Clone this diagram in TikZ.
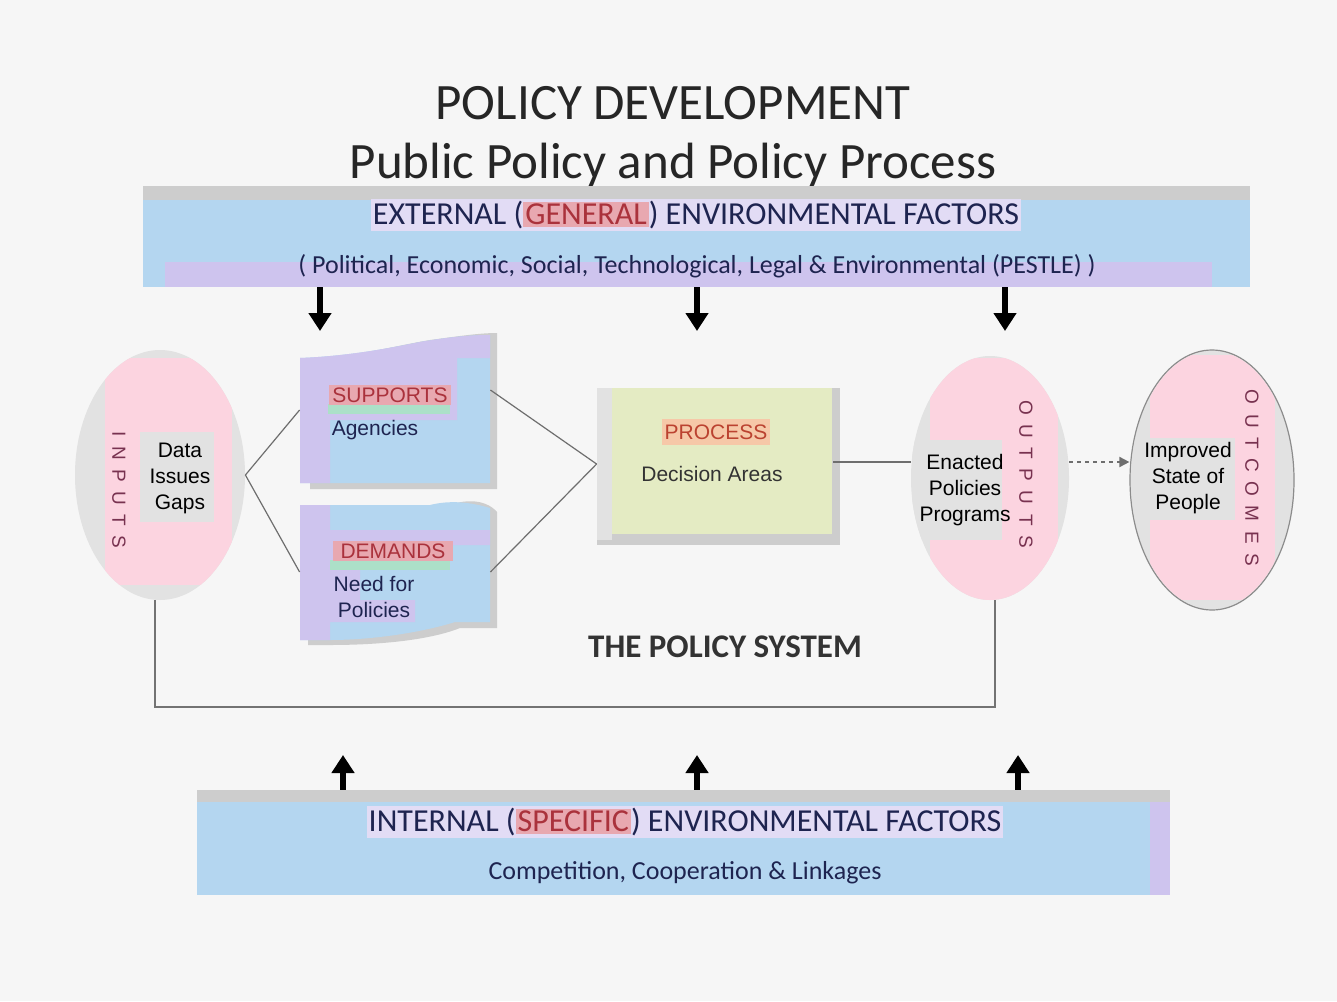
\documentclass[tikz,border=0pt]{standalone}
\usepackage{fontspec}
\setmainfont{Carlito}
\newfontfamily\arialf{Liberation Sans}
\usetikzlibrary{shapes.geometric,arrows.meta}
\definecolor{bgc}{RGB}{246,246,246}
\definecolor{barblue}{RGB}{180,214,240}
\definecolor{lav}{RGB}{206,196,238}
\definecolor{shadeg}{RGB}{205,205,205}
\definecolor{navy}{RGB}{30,36,80}
\definecolor{hlpink}{RGB}{232,168,176}
\definecolor{hltext}{RGB}{170,50,60}
\definecolor{mint}{RGB}{172,224,200}
\definecolor{pinkf}{RGB}{252,212,224}
\definecolor{ellg}{RGB}{226,226,226}
\definecolor{decf}{RGB}{228,235,195}
\definecolor{orangehl}{RGB}{246,200,168}
\definecolor{vtext}{RGB}{120,50,80}
\definecolor{linec}{RGB}{110,110,110}
\setlength{\fboxsep}{1pt}
\tikzset{
  bigarrow/.style={line width=2.6pt,-{Triangle[width=11pt,length=9pt]}},
  conn/.style={draw=linec,line width=0.6pt},
  boxtxt/.style={font=\arialf\fontsize{10.5}{13}\selectfont,align=center,inner sep=1pt},
  hdr/.style={font=\arialf\fontsize{10.5}{12}\selectfont,text=hltext,fill=hlpink,inner sep=1.5pt},
  vert/.style={font=\arialf\fontsize{9.5}{10}\selectfont\addfontfeature{LetterSpace=50},text=vtext,rotate=-90,inner sep=0pt},
  barline1/.style={font=\fontsize{16}{18}\selectfont,text=navy,inner sep=1pt},
  barline2/.style={font=\fontsize{13}{15}\selectfont,text=navy,inner sep=1pt},
  shapebox/.style={rectangle,inner sep=0pt}
}
\begin{document}
\begin{tikzpicture}[x=0.5pt,y=-0.5pt]
\fill[bgc] (0,0) rectangle (1337,1001);
\useasboundingbox (0,0) rectangle (1337,1001);

% Title
\node[font=\fontsize{25.5}{30}\selectfont,text=black!85] (t1) at (673,103) {POLICY DEVELOPMENT};
\node[font=\fontsize{25.5}{30}\selectfont,text=black!85] (t2) at (673,165) {Public Policy and Policy Process};

% External bar
\fill[shadeg] (143,186) rectangle (1250,200);
\fill[barblue] (143,200) rectangle (1250,287);
\fill[lav] (165,262) rectangle (1212,287);
\node[shapebox,minimum width=553.5pt,minimum height=50.5pt] (ext) at (696.5,236.5) {};
\node[barline1,fill=lav!60] (ext1) at (696,215) {EXTERNAL (\textcolor{hltext}{\colorbox{hlpink}{GENERAL}}) ENVIRONMENTAL FACTORS};
\node[barline2] (ext2) at (697,266) {( Political, Economic, Social, Technological, Legal \& Environmental (PESTLE) )};

% down arrows
\coordinate (d1) at (320,331);
\coordinate (d2) at (697,331);
\coordinate (d3) at (1005,331);
\draw[bigarrow] (ext.south -| d1) -- (d1);
\draw[bigarrow] (ext.south -| d2) -- (d2);
\draw[bigarrow] (ext.south -| d3) -- (d3);

% Inputs ellipse
\node[ellipse,fill=ellg,minimum width=85pt,minimum height=125pt,inner sep=0pt] (inp) at (160,475) {};
\begin{scope}
\clip (160,475) ellipse [x radius=85, y radius=125];
\fill[pinkf] (105,358) rectangle (232,585);
\fill[ellg] (140,432) rectangle (214,522);
\end{scope}
\node[boxtxt] (inpt) at (180,478) {Data\\Issues\\Gaps};
\node[vert] (inpv) at (119,490) {INPUTS};

% Supports box
\fill[shadeg] (310,362) .. controls (360,355) and (400,345) .. (430,340) .. controls (460,336) and (480,333) .. (497,333) -- (497,489) -- (310,489) -- cycle;
\fill[barblue] (300,358) .. controls (350,356) and (390,348) .. (420,342) .. controls (450,337) and (470,335) .. (490,335) -- (490,483) -- (300,483) -- cycle;
\fill[lav] (300,358) .. controls (350,356) and (390,348) .. (420,342) .. controls (450,337) and (470,335) .. (490,335) -- (490,358) -- (457,358) -- (457,420) -- (330,420) -- (330,483) -- (300,483) -- cycle;
\node[shapebox,minimum width=95pt,minimum height=75pt] (sup) at (395,410) {};
\fill[mint] (328,404) rectangle (450,414);
\node[hdr,minimum width=60pt] (suph) at (390,395) {SUPPORTS};
\node[boxtxt,text=navy] (supt) at (375,430) {Agencies};

% Demands box
\fill[shadeg] (308,512) -- (440,510) .. controls (460,498) and (485,498) .. (497,512) -- (497,628) -- (460,628) .. controls (430,640) and (380,645) .. (330,645) -- (308,645) -- cycle;
\fill[barblue] (300,505) -- (430,505) .. controls (450,500) and (470,502) .. (490,508) -- (490,622) -- (455,622) .. controls (420,633) and (370,640) .. (330,640) -- (300,640) -- cycle;
\fill[lav] (300,505) -- (330,505) -- (330,530) -- (490,530) -- (490,545) -- (360,545) -- (360,600) -- (415,600) -- (415,622) -- (330,622) -- (330,640) -- (300,640) -- cycle;
\node[shapebox,minimum width=95pt,minimum height=67.5pt] (dem) at (395,572) {};
\fill[mint] (330,560) rectangle (450,570);
\node[hdr,minimum width=60pt] (demh) at (393,551) {DEMANDS};
\node[boxtxt,text=navy] (demt) at (374,597) {Need for\\Policies};

% Decision box
\fill[shadeg] (597,388) rectangle (840,545);
\node[shapebox,fill=decf,minimum width=110pt,minimum height=73pt,anchor=north west] (dec) at (612,388) {};
\fill[ellg] (597,388) rectangle (612,540);
\node[shapebox,minimum width=118pt,minimum height=76pt] (decb) at (715,464) {};
\node[hdr,fill=orangehl,text=hltext!80!orange,minimum width=48pt,minimum height=13pt] (dech) at (716,432) {PROCESS};
\node[boxtxt,text=black!80] (dect) at (712,474) {Decision Areas};

% Outputs ellipse
\node[ellipse,fill=ellg,minimum width=79pt,minimum height=122pt,inner sep=0pt] (outp) at (990,478) {};
\begin{scope}
\clip (990,478) ellipse [x radius=79, y radius=122];
\fill[pinkf] (930,358) rectangle (1058,605);
\fill[ellg] (912,440) rectangle (1002,540);
\end{scope}
\node[boxtxt] (outpt) at (965,490) {Enacted\\Policies\\Programs};
\node[vert] (outpv) at (1026,474) {OUTPUTS};

% Outcomes ellipse
\node[ellipse,draw=black!45,line width=0.6pt,fill=ellg,minimum width=82pt,minimum height=130pt,inner sep=0pt] (outc) at (1212,480) {};
\begin{scope}
\clip (1212,480) ellipse [x radius=81, y radius=129];
\fill[pinkf] (1150,355) rectangle (1275,600);
\fill[ellg] (1130,438) rectangle (1235,520);
\end{scope}
\node[boxtxt] (outct) at (1188,478) {Improved\\State of\\People};
\node[vert] (outcv) at (1252,478) {OUTCOMES};

% connectors
\draw[conn] (inp.east) -- (sup.west);
\draw[conn] (inp.east) -- (dem.west);
\draw[conn] ([yshift=10pt]sup.east) -- (decb.west);
\draw[conn] (dem.east) -- (decb.west);
\draw[conn] (decb.east |- 0,462) -- (outp.west |- 0,462);
\draw[conn,dashed,line width=0.9pt,dash pattern=on 2pt off 2pt,-{Triangle[width=5pt,length=5pt]}] (outp.east |- 0,462) -- (outc.west |- 0,462);

% policy system bracket
\draw[conn,line width=1pt,draw=black!55] (inp.south -| 155,0) -- (155,707) -| (outp.south -| 995,0);
\node[font=\bfseries\fontsize{16.5}{19}\selectfont,text=black!80] (sys) at (725,647) {THE POLICY SYSTEM};

% up arrows
\coordinate (u1) at (343,755);
\coordinate (u2) at (697,755);
\coordinate (u3) at (1018,755);

% Internal bar
\fill[shadeg] (197,790) rectangle (1170,802);
\fill[barblue] (197,802) rectangle (1170,895);
\fill[lav] (1150,802) rectangle (1170,895);
\node[shapebox,minimum width=486.5pt,minimum height=52.5pt] (int) at (683.5,842.5) {};
\node[barline1,fill=lav!60] (int1) at (685,822) {INTERNAL (\textcolor{hltext}{\colorbox{hlpink}{SPECIFIC}}) ENVIRONMENTAL FACTORS};
\node[barline2] (int2) at (685,873) {Competition, Cooperation \& Linkages};
\draw[bigarrow] (int.north -| u1) -- (u1);
\draw[bigarrow] (int.north -| u2) -- (u2);
\draw[bigarrow] (int.north -| u3) -- (u3);
\end{tikzpicture}
\end{document}
